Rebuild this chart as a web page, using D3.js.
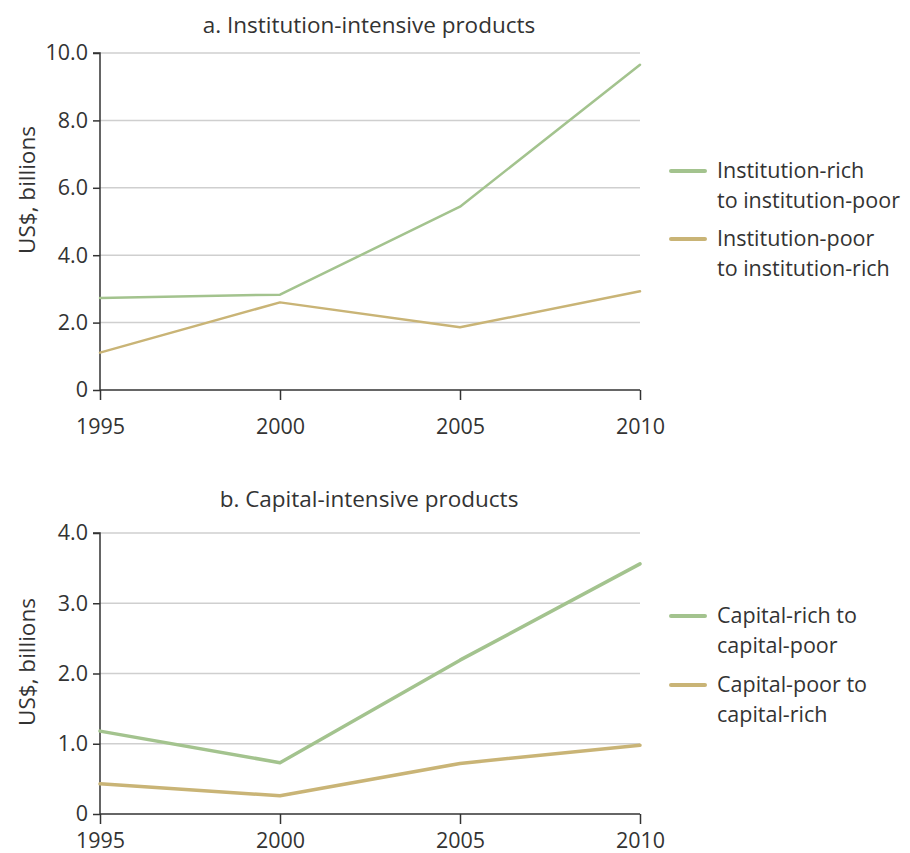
<!DOCTYPE html>
<html>
<head>
<meta charset="utf-8">
<script src="https://cdn.jsdelivr.net/npm/d3@7"></script>
<style>
  html, body { margin: 0; padding: 0; background: #fff; }
  svg { display: block; font-family: "Open Sans", "Noto Sans", sans-serif; }
</style>
</head>
<body>
<svg id="chart" width="910" height="853"></svg>
<script>
// ---- Data ----
const years = [1995, 2000, 2005, 2010];

const panelATitle = "a. Institution-intensive products";
const panelATicks = [0, 2, 4, 6, 8, 10];
const instRichToPoor = [2.73, 2.83, 5.44, 9.65];
const instPoorToRich = [1.11, 2.60, 1.86, 2.93];
const panelALegend = [["Institution-rich", "to institution-poor"], ["Institution-poor", "to institution-rich"]];

const panelBTitle = "b. Capital-intensive products";
const panelBTicks = [0, 1, 2, 3, 4];
const capRichToPoor = [1.18, 0.73, 2.19, 3.56];
const capPoorToRich = [0.43, 0.26, 0.72, 0.98];
const panelBLegend = [["Capital-rich to", "capital-poor"], ["Capital-poor to", "capital-rich"]];

const yTitle = "US$, billions";
const colors = ["#a3c38e", "#c9b476"];
const textColor = "#333";

const svg = d3.select("#chart");

function panel(cfg) {
  const g = svg.append("g");
  const x = d3.scaleLinear().domain([1995, 2010]).range([100, 640]);
  const y = d3.scaleLinear().domain([0, cfg.ymax]).range([cfg.y0, cfg.y1]);

  // gridlines
  g.append("g").selectAll("line").data(cfg.ticks.filter(t => t > 0)).join("line")
    .attr("x1", 100).attr("x2", 640)
    .attr("y1", d => y(d)).attr("y2", d => y(d))
    .attr("stroke", "#cfcfcf").attr("stroke-width", 1.5);

  // y axis
  const ya = g.append("g").attr("transform", "translate(100,0)")
    .call(d3.axisLeft(y).tickValues(cfg.ticks).tickSize(7).tickPadding(5)
      .tickFormat(d => d === 0 ? "0" : d3.format(".1f")(d)));
  ya.select(".domain").attr("stroke", textColor).attr("stroke-width", 1.5).attr("d", `M-7,${y(cfg.ymax)}H0V${y(0)}`);
  ya.selectAll(".tick line").attr("stroke", textColor).attr("stroke-width", 1.5);
  ya.selectAll(".tick text").attr("fill", textColor).style("font-size", "21.5px").style("font-family", "'Open Sans', sans-serif");

  // x axis
  const xa = g.append("g").attr("transform", `translate(0,${y(0)})`)
    .call(d3.axisBottom(x).tickValues(years).tickSize(10).tickPadding(cfg.xPad).tickFormat(d3.format("d")));
  xa.select(".domain").attr("stroke", textColor).attr("stroke-width", 1.5).attr("d", `M100,0H640`);
  xa.selectAll(".tick line").attr("stroke", textColor).attr("stroke-width", 1.5);
  xa.selectAll(".tick text").attr("fill", textColor).style("font-size", "21.5px").style("font-family", "'Open Sans', sans-serif");

  // lines
  const line = d3.line().x((d, i) => x(years[i])).y(d => y(d));
  cfg.series.forEach((s, i) => {
    g.append("path").datum(s).attr("d", line)
      .attr("fill", "none").attr("stroke", colors[i]).attr("stroke-width", cfg.lw)
      .attr("stroke-linejoin", "round").attr("stroke-linecap", "round");
  });

  // title
  g.append("text").attr("x", 369).attr("y", cfg.titleY).attr("text-anchor", "middle")
    .attr("fill", textColor).style("font-size", "22.5px").text(cfg.title);

  // y title
  g.append("text").attr("transform", `translate(35,${cfg.yTitleC}) rotate(-90)`)
    .attr("text-anchor", "middle").attr("fill", textColor).style("font-size", "22.5px").text(yTitle);

  // legend
  cfg.legend.forEach((lab, i) => {
    const ly = cfg.legY[i];
    g.append("line").attr("x1", 671).attr("x2", 705).attr("y1", ly).attr("y2", ly)
      .attr("stroke", colors[i]).attr("stroke-width", 4).attr("stroke-linecap", "round");
    lab.forEach((l, j) => g.append("text").attr("x", 717).attr("y", ly + 7 + j * 29.5)
      .attr("fill", textColor).style("font-size", "21.5px").text(l));
  });
}

panel({ title: panelATitle, titleY: 33, ymax: 10, y0: 390, y1: 53, ticks: panelATicks, xPad: 19, yTitleC: 190,
  series: [instRichToPoor, instPoorToRich], lw: 2.5, legend: panelALegend, legY: [171, 239] });
panel({ title: panelBTitle, titleY: 507, ymax: 4, y0: 814, y1: 533, ticks: panelBTicks, xPad: 9, yTitleC: 662,
  series: [capRichToPoor, capPoorToRich], lw: 3.5, legend: panelBLegend, legY: [616, 685] });
</script>
</body>
</html>
